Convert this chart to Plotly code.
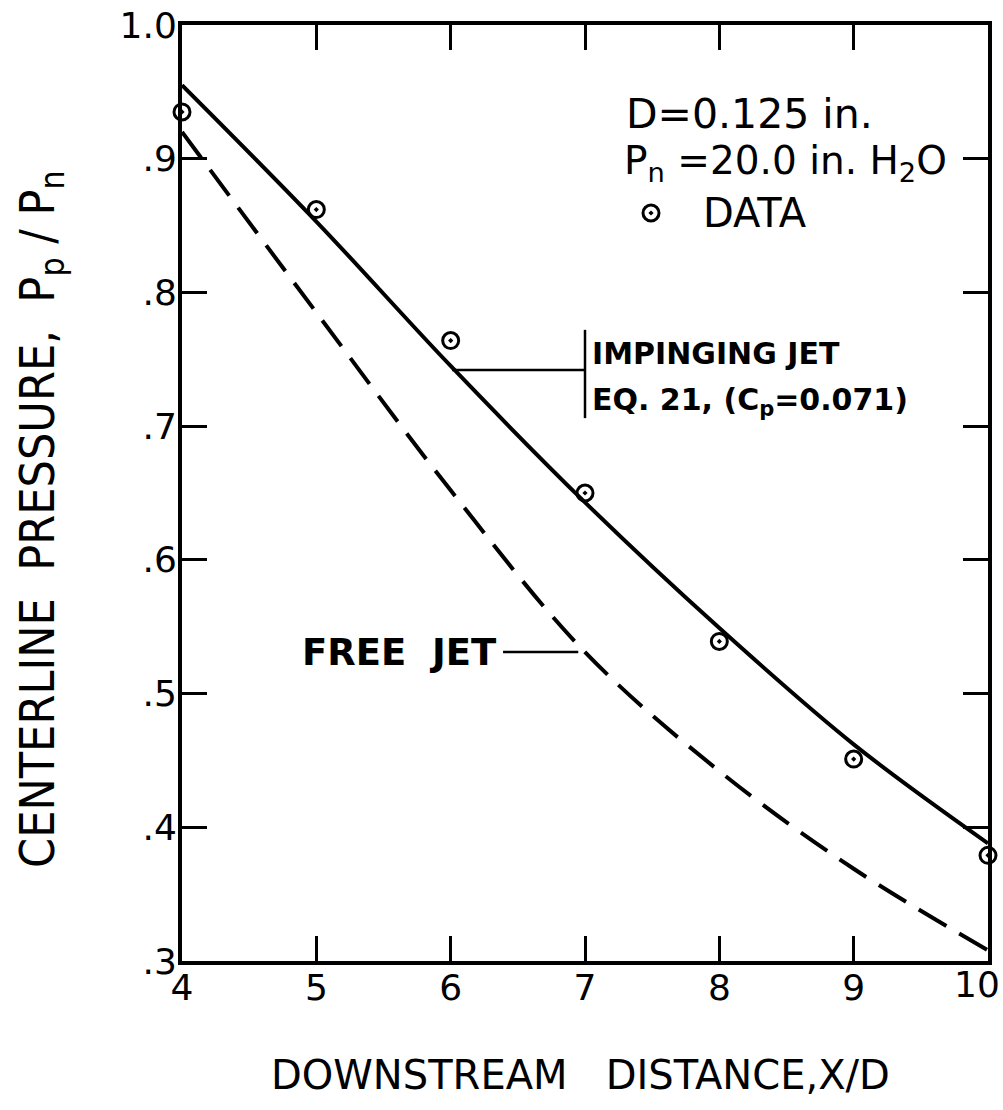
import plotly.graph_objects as go

# ---- data -------------------------------------------------------------
x_data = [4, 5, 6, 7, 8, 9, 10]
p_data = [0.935, 0.862, 0.764, 0.650, 0.539, 0.451, 0.379]

x_curve = [4, 5, 6, 7, 8, 9, 10]
p_impinging = [0.955, 0.853, 0.745, 0.643, 0.549, 0.462, 0.388]   # Eq. 21, Cp = 0.071
p_free = [0.920, 0.785, 0.652, 0.531, 0.442, 0.369, 0.308]        # free jet

x_ticks = [4, 5, 6, 7, 8, 9, 10]
x_ticktext = ["4", "5", "6", "7", "8", "9", "10"]
y_ticks = [0.3, 0.4, 0.5, 0.6, 0.7, 0.8, 0.9, 1.0]
y_ticktext = [".3", ".4", ".5", ".6", ".7", ".8", ".9", "1.0"]

# ---- layout geometry (pixels) ------------------------------------------
W, H = 1003, 1110
PL, PR, PT, PB = 182, 988, 25, 961


def fx(p):
    return (p - PL) / (PR - PL)


def fy(p):
    return (PB - p) / (PB - PT)


FONT = "DejaVu Sans, Liberation Sans, Arial"
COND = "DejaVu Sans Condensed, Liberation Sans Narrow, DejaVu Sans"
INK = "black"
TICK_SIZE = 36

fig = go.Figure()

fig.add_trace(go.Scatter(
    x=x_curve, y=p_free, mode="lines",
    line=dict(color=INK, width=4, dash="32px,15px", shape="spline", smoothing=1.0),
    showlegend=False, hoverinfo="skip"))

fig.add_trace(go.Scatter(
    x=x_curve, y=p_impinging, mode="lines",
    line=dict(color=INK, width=4, shape="spline", smoothing=1.0),
    showlegend=False, hoverinfo="skip"))

fig.add_trace(go.Scatter(
    x=x_data, y=p_data, mode="markers",
    marker=dict(symbol="circle-open-dot", size=16, color=INK, line=dict(width=3, color=INK)),
    cliponaxis=False, showlegend=False, hoverinfo="skip"))

# key symbol next to "DATA", placed on a hidden unit-square overlay
fig.add_trace(go.Scatter(
    x=[fx(651)], y=[fy(213)], mode="markers", xaxis="x2", yaxis="y2",
    marker=dict(symbol="circle-open-dot", size=16, color=INK, line=dict(width=3, color=INK)),
    cliponaxis=False, showlegend=False, hoverinfo="skip"))

axis_common = dict(
    showline=True, linewidth=4, linecolor=INK, mirror="ticks",
    ticks="inside", ticklen=25, tickwidth=3, tickcolor=INK,
    showgrid=False, zeroline=False, automargin=False,
    tickfont=dict(family=FONT, size=TICK_SIZE, color=INK),
)

# the last x label sits at the page edge, so it is written as its own note
# (right-aligned) instead of being centred under the tick
x_axis_text = x_ticktext[:-1] + [""]

fig.update_layout(
    width=W, height=H,
    margin=dict(l=PL, r=W - PR, t=PT, b=H - PB, autoexpand=False),
    paper_bgcolor="white", plot_bgcolor="white",
    xaxis=dict(range=[4, 10], tickvals=x_ticks, ticktext=x_axis_text,
               ticklabelstandoff=-8, **axis_common),
    yaxis=dict(range=[0.3, 1.0], tickvals=y_ticks, ticktext=y_ticktext,
               ticklabelstandoff=-6, **axis_common),
    xaxis2=dict(overlaying="x", range=[0, 1], visible=False),
    yaxis2=dict(overlaying="y", range=[0, 1], visible=False),
)

# ---- leader lines -------------------------------------------------------
fig.add_shape(type="line", xref="x", yref="y", x0=6.01, y0=0.742, x1=7.0, y1=0.742,
              line=dict(color=INK, width=2.5))
fig.add_shape(type="line", xref="x", yref="y", x0=7.0, y0=0.706, x1=7.0, y1=0.772,
              line=dict(color=INK, width=2.5))
fig.add_shape(type="line", xref="x", yref="y", x0=6.39, y0=0.531, x1=6.95, y1=0.531,
              line=dict(color=INK, width=2.5))

# ---- text -----------------------------------------------------------------
def note(text, x, y, size, family=FONT, xanchor="left", angle=0, bold=False):
    if bold:
        text = "<b>" + text + "</b>"
    fig.add_annotation(text=text, xref="paper", yref="paper", x=x, y=y,
                       xanchor=xanchor, yanchor="middle", showarrow=False,
                       textangle=angle, font=dict(family=family, size=size, color=INK))


note(x_ticktext[-1], fx(1002), fy(985), TICK_SIZE, xanchor="right")

note("D=0.125 in.", fx(624), fy(114), 41)
note("P<sub>n</sub> =20.0 in. H<sub>2</sub>O", fx(622), fy(163), 39)
note("DATA", fx(701), fy(213), 40)

note("IMPINGING JET", fx(590), fy(353), 30, bold=True)
note("EQ. 21, (C<sub>p</sub>=0.071)", fx(590), fy(401), 30, bold=True)

note("FREE\u00a0\u00a0JET", fx(499), fy(652), 37, xanchor="right", bold=True)

note("DOWNSTREAM\u00a0\u00a0\u00a0DISTANCE,X/D", fx(580), fy(1075), 40, xanchor="center")
note("CENTERLINE\u00a0\u00a0PRESSURE,\u00a0\u00a0P<sub>p</sub> / P<sub>n</sub>",
     fx(40), fy(519), 48, family=COND, xanchor="center", angle=-90)

fig.write_html("out.html")
